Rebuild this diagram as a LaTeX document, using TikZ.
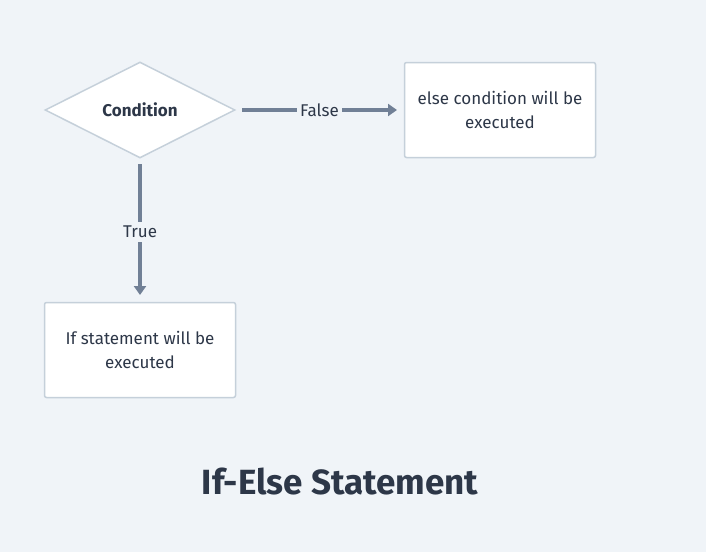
\documentclass[tikz,border=0pt]{standalone}
\usepackage{fontspec}
\setmainfont{Fira Sans}
\usetikzlibrary{shapes.geometric,arrows.meta}
\definecolor{bg}{HTML}{F0F4F8}
\definecolor{bordc}{HTML}{C5D0DA}
\definecolor{arrc}{HTML}{718096}
\definecolor{txtc}{HTML}{2D3748}
\tikzset{
  boxst/.style={draw=bordc, line width=1.5pt, fill=white, rounded corners=2pt,
    minimum width=191pt, minimum height=95pt, align=center,
    font=\fontsize{17}{24}\selectfont, text=txtc, inner sep=0pt},
  decst/.style={diamond, draw=bordc, line width=1.5pt, fill=white, aspect=2,
    minimum width=190pt, minimum height=96pt, inner sep=0pt,
    font=\bfseries\fontsize{17}{20}\selectfont, text=txtc},
  conn/.style={draw=arrc, line width=3.5pt, -{Triangle[length=9pt,width=12pt]}},
  lab/.style={fill=bg, text=txtc, font=\fontsize{17}{20}\selectfont, inner xsep=3pt, inner ysep=4pt},
  titlest/.style={text=txtc, font=\bfseries\fontsize{35}{40}\selectfont}
}
\begin{document}
\begin{tikzpicture}[x=1pt,y=-1pt]
\fill[bg] (0,0) rectangle (706,552);
\useasboundingbox (0,0) rectangle (706,552);
\node[decst] (cond) at (140,110) {Condition};
\node[boxst] (elseb) at (500,110) {else condition will be\\executed};
\node[boxst] (ifb) at (140,350) {If statement will be\\executed};
\coordinate (fs) at (242,110);
\coordinate (fe) at (397,110);
\coordinate (ts) at (140,164);
\coordinate (te) at (140,295);
\draw[conn] (fs) -- node[lab] (flab) {False} (fe);
\draw[conn] (ts) -- node[lab, pos=0.52] (tlab) {True} (te);
\node[titlest] (title) at (340,482) {If-Else Statement};
\end{tikzpicture}
\end{document}
